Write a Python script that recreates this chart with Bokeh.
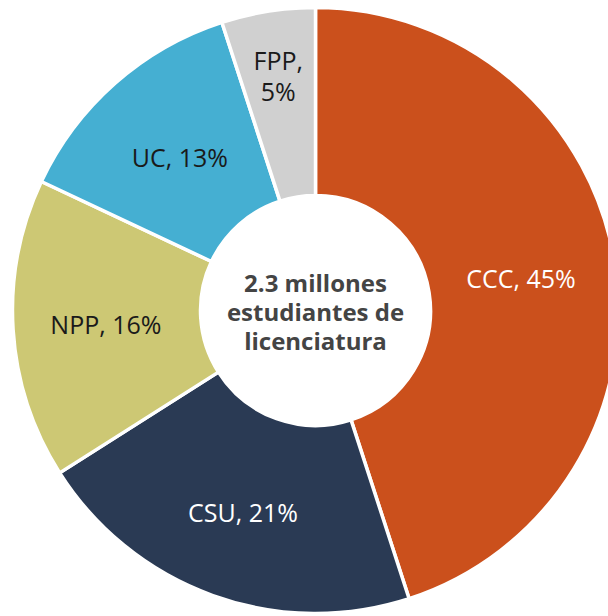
import math
from bokeh.plotting import figure
from bokeh.models import ColumnDataSource, Range1d
from bokeh.core.properties import value
from bokeh.embed import file_html
from bokeh.resources import INLINE

categories = ["CCC", "CSU", "NPP", "UC", "FPP"]
shares = [45, 21, 16, 13, 5]
colors = ["#CB501C", "#2A3A54", "#CDC874", "#45AFD2", "#D0D0D0"]
label_colors = ["#FFFFFF", "#FFFFFF", "#1A1A1A", "#1A1A1A", "#1A1A1A"]
label_texts = ["CCC, 45%", "CSU, 21%", "NPP, 16%", "UC, 13%", "FPP,\n5%"]
label_radius = [208, 214, 210, 205, 238]
center_text = "2.3 millones\nestudiantes de\nlicenciatura"

W, H = 608, 616
CX, CY = 315, 310
R_OUT, R_IN = 303, 115

total = sum(shares)
starts, ends, lx, ly = [], [], [], []
cum = 0.0
for s, r in zip(shares, label_radius):
    a0 = math.pi / 2 - 2 * math.pi * cum / total
    a1 = math.pi / 2 - 2 * math.pi * (cum + s) / total
    mid = (a0 + a1) / 2
    starts.append(a0)
    ends.append(a1)
    lx.append(r * math.cos(mid))
    ly.append(r * math.sin(mid))
    cum += s

src = ColumnDataSource(dict(cat=categories, start=starts, end=ends, color=colors,
                            lx=lx, ly=ly, lt=label_texts, lc=label_colors))

p = figure(width=W, height=H, output_backend="svg", toolbar_location=None,
           x_range=Range1d(-CX, W - CX), y_range=Range1d(-(H - CY), CY),
           min_border=0, outline_line_color=None)
p.axis.visible = False
p.grid.visible = False
p.background_fill_color = "white"

p.annular_wedge(x=0, y=0, inner_radius=R_IN, outer_radius=R_OUT,
                start_angle="start", end_angle="end", direction="clock",
                fill_color="color", line_color="white", line_width=3.5, source=src)

p.text(x="lx", y="ly", text="lt", text_color="lc", source=src,
       text_align="center", text_baseline="middle",
       text_font=value("Open Sans"), text_font_size="25px", text_line_height=0.92)

p.text(x=[0], y=[-1], text=[center_text], text_align="center", text_baseline="middle",
       text_font=value("Open Sans"), text_font_style="bold", text_font_size="24px",
       text_color="#444444", text_line_height=0.89)

open("out.html", "w").write(file_html(p, INLINE))
